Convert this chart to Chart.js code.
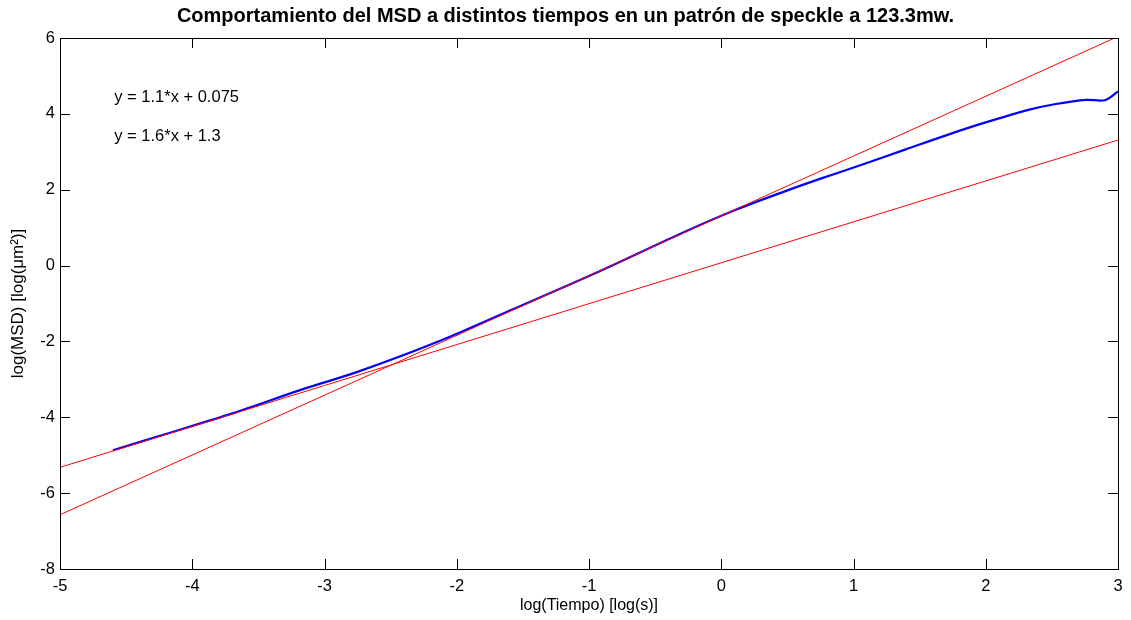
<!DOCTYPE html>
<html>
<head>
<meta charset="utf-8">
<script src="https://cdn.jsdelivr.net/npm/chart.js@4.4.1/dist/chart.umd.min.js"></script>
<style>
  html, body { margin: 0; padding: 0; background: #fff; }
  #wrap { width: 1131px; height: 620px; }
</style>
</head>
<body>
<div id="wrap"><canvas id="grafico" width="1131" height="620"></canvas></div>
<script>
// MSD vs tiempo (log-log), speckle a 123.3mw

// curva medida (azul)
const msdX = [-4.60, -4.20, -3.69, -3.19, -2.74, -2.13, -1.58, -0.92, -0.32, 0.11, 0.49, 0.74, 1.04, 1.40, 1.85, 2.10, 2.33, 2.53, 2.76, 2.90, 3.00];
const msdY = [-4.87, -4.44, -3.89, -3.29, -2.79, -1.99, -1.16, -0.15, 0.82, 1.47, 1.97, 2.28, 2.63, 3.07, 3.61, 3.88, 4.11, 4.26, 4.37, 4.36, 4.59];

// ajustes lineales (rojo), extremos
const ajuste1X = [-5, 3];
const ajuste1Y = [-5.32, 3.31];
const ajuste2X = [-5, 3];
const ajuste2Y = [-6.57, 6.04];

const ticksX = [-5, -4, -3, -2, -1, 0, 1, 2, 3];
const ticksY = [-8, -6, -4, -2, 0, 2, 4, 6];

const ecuaciones = ['y = 1.1*x + 0.075', 'y = 1.6*x + 1.3'];
const titulo = 'Comportamiento del MSD a distintos tiempos en un patrón de speckle a 123.3mw.';

const FUENTE = '"Liberation Sans", Arial, sans-serif';

function puntos(xs, ys) {
  return xs.map((x, i) => ({ x, y: ys[i] }));
}

// marco, ticks hacia adentro, titulo y ecuaciones (estilo MATLAB)
const estiloMatlab = {
  id: 'estiloMatlab',
  afterDraw(chart) {
    const { ctx, chartArea: a, scales } = chart;
    const largo = 10;
    ctx.save();
    ctx.strokeStyle = '#000';
    ctx.lineWidth = 1;
    ctx.beginPath();
    ticksX.forEach(v => {
      const px = Math.round(scales.x.getPixelForValue(v)) + 0.5;
      ctx.moveTo(px, a.bottom); ctx.lineTo(px, a.bottom - largo);
      ctx.moveTo(px, a.top); ctx.lineTo(px, a.top + largo);
    });
    ticksY.forEach(v => {
      const py = Math.round(scales.y.getPixelForValue(v)) + 0.5;
      ctx.moveTo(a.left, py); ctx.lineTo(a.left + largo, py);
      ctx.moveTo(a.right, py); ctx.lineTo(a.right - largo, py);
    });
    ctx.stroke();
    ctx.strokeRect(Math.round(a.left) + 0.5, Math.round(a.top) + 0.5,
      Math.round(a.right - a.left), Math.round(a.bottom - a.top));

    // titulo
    ctx.fillStyle = '#000';
    ctx.font = 'bold 20px ' + FUENTE;
    ctx.textAlign = 'center';
    ctx.textBaseline = 'middle';
    ctx.fillText(titulo, chart.width / 2, 16);

    // ecuaciones de ajuste
    ctx.font = '16.5px ' + FUENTE;
    ctx.textAlign = 'left';
    const ex = scales.x.getPixelForValue(-4.59);
    ctx.fillText(ecuaciones[0], ex, scales.y.getPixelForValue(4.42));
    ctx.fillText(ecuaciones[1], ex, scales.y.getPixelForValue(3.41));
    ctx.restore();
  }
};

const ctx = document.getElementById('grafico').getContext('2d');

new Chart(ctx, {
  type: 'scatter',
  data: {
    datasets: [
      {
        label: 'ajuste 1',
        data: puntos(ajuste1X, ajuste1Y),
        showLine: true,
        borderColor: '#ff0000',
        borderWidth: 1,
        pointRadius: 0,
        tension: 0,
        order: 1
      },
      {
        label: 'ajuste 2',
        data: puntos(ajuste2X, ajuste2Y),
        showLine: true,
        borderColor: '#ff0000',
        borderWidth: 1,
        pointRadius: 0,
        tension: 0,
        order: 2
      },
      {
        label: 'MSD',
        data: puntos(msdX, msdY),
        showLine: true,
        borderColor: '#0000ff',
        borderWidth: 2.2,
        pointRadius: 0,
        tension: 0.3,
        order: 3
      }
    ]
  },
  options: {
    responsive: false,
    animation: false,
    layout: { padding: { top: 38, right: 13, left: 0, bottom: 0 } },
    plugins: {
      legend: { display: false },
      tooltip: { enabled: false }
    },
    scales: {
      x: {
        type: 'linear',
        min: -5,
        max: 3,
        afterBuildTicks: (s) => { s.ticks = ticksX.map(v => ({ value: v })); },
        afterFit: (s) => { s.height = 51; },
        grid: { display: false, drawTicks: false },
        border: { display: true, color: '#000' },
        ticks: { color: '#000', padding: 8, font: { family: FUENTE, size: 16.5 } },
        title: {
          display: true,
          text: 'log(Tiempo) [log(s)]',
          color: '#000',
          padding: { top: 0, bottom: 5 },
          font: { family: FUENTE, size: 16 }
        }
      },
      y: {
        type: 'linear',
        min: -8,
        max: 6,
        afterBuildTicks: (s) => { s.ticks = ticksY.map(v => ({ value: v })); },
        afterFit: (s) => { s.width = 60; },
        grid: { display: false, drawTicks: false },
        border: { display: true, color: '#000' },
        ticks: { color: '#000', padding: 5, font: { family: FUENTE, size: 16.5 } },
        title: {
          display: true,
          text: 'log(MSD) [log(μm²)]',
          color: '#000',
          padding: { top: 8, bottom: 0 },
          font: { family: FUENTE, size: 17 }
        }
      }
    }
  },
  plugins: [estiloMatlab]
});
</script>
</body>
</html>
